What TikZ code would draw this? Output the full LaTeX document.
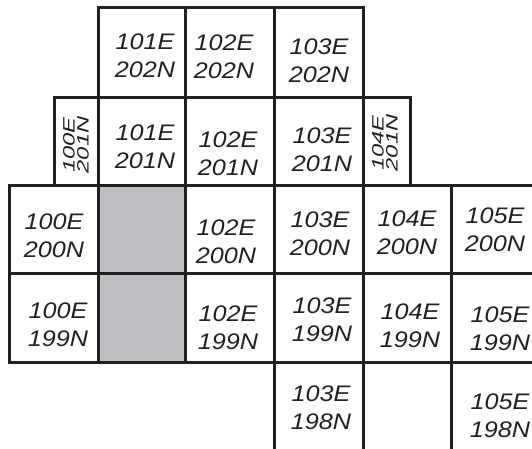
\documentclass[tikz,border=0pt]{standalone}
\usepackage{fontspec}
\setmainfont{Liberation Sans}[FakeStretch=1.12]
\newfontfamily\slimfont{Liberation Sans}[FakeStretch=1.25]
\usepackage{tikz}
\definecolor{ink}{HTML}{231F20}
\definecolor{fillgray}{HTML}{BDBEC2}

\begin{document}
\begin{tikzpicture}[x=1pt,y=-1pt,
  g/.style={draw=ink,line width=3pt},
  t/.style={font=\fontsize{22.5}{28}\selectfont\itshape,align=center,inner sep=0pt,text=ink},
  s/.style={t,font=\slimfont\fontsize{16.5}{14}\selectfont\itshape,rotate=90,xscale=1.15}]
  \useasboundingbox (0,0) rectangle (532,449);
  \clip (0,0) rectangle (532,449);
  \fill[fillgray] (98,185) rectangle (185,362);
  \draw[g] (98,8) rectangle (363,98) (185,8)--(185,98) (274,8)--(274,98);
  \draw[g] (54,98) rectangle (410,185);
  \foreach \x in {98,185,274,363} \draw[g] (\x,98)--(\x,185);
  \draw[g] (9,185) rectangle (560,362) (9,273)--(560,273);
  \foreach \x in {98,185,274,363,451} \draw[g] (\x,185)--(\x,362);
  \foreach \x in {274,363,451} \draw[g] (\x,362)--(\x,460);
  \node[t] (e101n202) at (145,55.7) {101E\\202N};
  \node[t] (e102n202) at (224,56.5) {102E\\202N};
  \node[t] (e103n202) at (319,61) {103E\\202N};
  \node[s] (e100n201) at (76,145) {100E\\201N};
  \node[t] (e101n201) at (145,146.5) {101E\\201N};
  \node[t] (e102n201) at (228,153.5) {102E\\201N};
  \node[t] (e103n201) at (322,150) {103E\\201N};
  \node[s] (e104n201) at (385,143) {104E\\201N};
  \node[t] (e100n200) at (54,235.5) {100E\\200N};
  \node[t] (e102n200) at (226,241.5) {102E\\200N};
  \node[t] (e103n200) at (320,233.5) {103E\\200N};
  \node[t] (e104n200) at (407,232.5) {104E\\200N};
  \node[t] (e105n200) at (495,230) {105E\\200N};
  \node[t] (e100n199) at (58,325) {100E\\199N};
  \node[t] (e102n199) at (228,327.5) {102E\\199N};
  \node[t] (e103n199) at (322,319.5) {103E\\199N};
  \node[t] (e104n199) at (410,325.5) {104E\\199N};
  \node[t] (e105n199) at (500,328.5) {105E\\199N};
  \node[t] (e103n198) at (321,407.5) {103E\\198N};
  \node[t] (e105n198) at (500,415.5) {105E\\198N};
\end{tikzpicture}
\end{document}
